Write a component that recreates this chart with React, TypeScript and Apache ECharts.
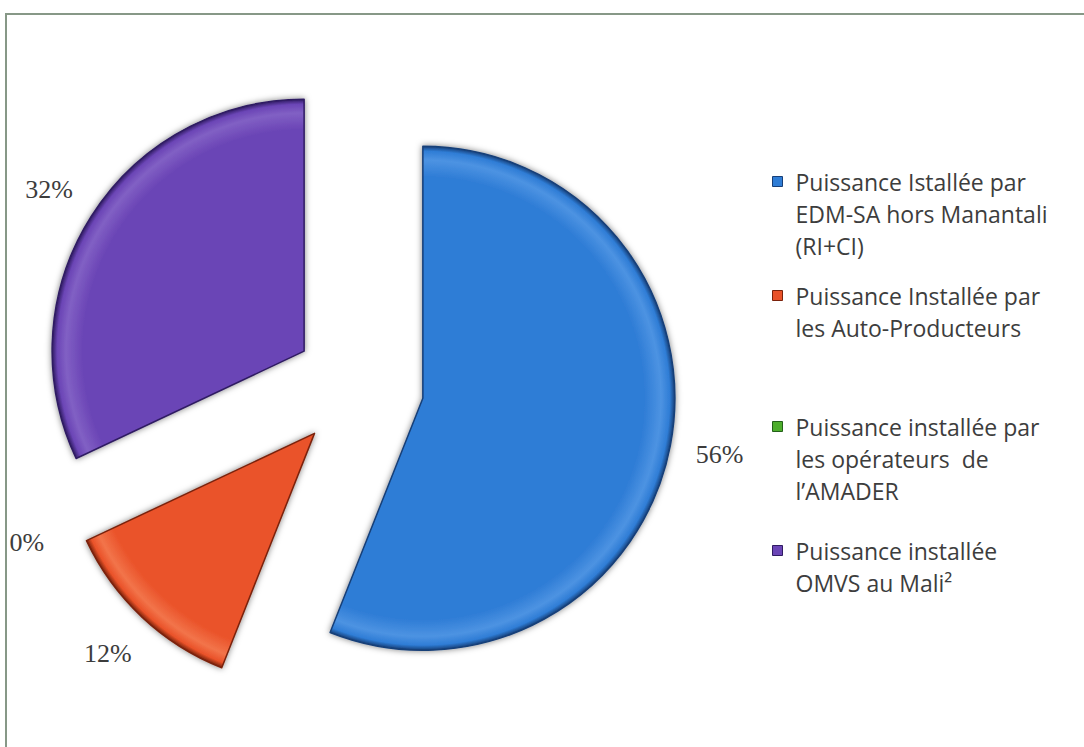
import React, { useEffect, useRef } from "react";
import * as echarts from "echarts";

const categories = [
  "Puissance Istallée par\nEDM-SA hors Manantali\n(RI+CI)",
  "Puissance Installée par\nles Auto-Producteurs",
  "Puissance installée par\nles opérateurs  de\nl’AMADER",
  "Puissance installée\nOMVS au Mali²",
];
const shares = [56, 12, 0, 32];
const baseColors = ["#2f7dd6", "#ea5229", "#4dae2c", "#6b45b6"];
const lightColors = ["#4d93e2", "#f2744a", "#6cc446", "#8160c4"];
const rimColors = ["#173f78", "#7a220b", "#24601a", "#2f1b62"];
const lineCounts = [3, 2, 3, 2];
const legendMids = [182, 296, 427, 551];

export default function App() {
  const ref = useRef<HTMLDivElement>(null);
  useEffect(() => {
    if (!ref.current) return;
    const chart = echarts.init(ref.current, undefined, { renderer: "svg" });
    const cx = 359;
    const cy = 386;
    const R = 252;
    const LH = 32;

    const pieData = categories.map((name, i) => ({
      name,
      value: shares[i],
      selected: true,
      itemStyle: {
        color: {
          type: "radial",
          x: cx,
          y: cy,
          r: R,
          global: true,
          colorStops: [
            { offset: 0, color: baseColors[i] },
            { offset: 0.88, color: baseColors[i] },
            { offset: 0.945, color: lightColors[i] },
            { offset: 0.98, color: baseColors[i] },
            { offset: 1, color: rimColors[i] },
          ],
        },
        borderColor: rimColors[i],
        borderWidth: shares[i] > 0 ? 1.5 : 0,
        shadowBlur: shares[i] > 0 ? 6 : 0,
        shadowColor: "rgba(0,0,0,0.5)",
      },
    }));

    const labelData = categories.map((name, i) => ({
      name,
      value: shares[i],
      selected: true,
    }));

    const legends = categories.map((name, i) => ({
      show: true,
      orient: "vertical",
      left: 772,
      top: legendMids[i] - 12,
      padding: 0,
      itemWidth: 10,
      itemHeight: 10,
      icon: "rect",
      selectedMode: false,
      formatter: (n: string) => "{t|" + n + "}",
      textStyle: {
        rich: {
          t: {
            fontFamily: "Open Sans",
            fontSize: 23,
            lineHeight: LH,
            color: "#3d3d3d",
          },
        },
      },
      data: [
        {
          name,
          itemStyle: {
            color: baseColors[i],
            borderColor: rimColors[i],
            borderWidth: 1,
          },
          textStyle: {
            padding: [(lineCounts[i] - 1) * LH, 0, 0, 8],
          },
        },
      ],
    }));

    chart.setOption({
      animation: false,
      backgroundColor: "#ffffff",
      graphic: [
        {
          type: "rect",
          z: -10,
          shape: { x: 6, y: 14, width: 1200, height: 900 },
          style: { fill: "none", stroke: "#879887", lineWidth: 2 },
          silent: true,
        },
      ],
      legend: legends,
      series: [
        {
          type: "pie",
          center: [cx, cy],
          radius: R,
          startAngle: 90,
          clockwise: true,
          selectedMode: "multiple",
          selectedOffset: 65,
          silent: true,
          emphasis: { disabled: true },
          label: { show: false },
          labelLine: { show: false },
          data: pieData,
        },
        {
          type: "pie",
          center: [cx, cy],
          radius: [294, 304],
          startAngle: 90,
          clockwise: true,
          selectedMode: "multiple",
          selectedOffset: 65,
          silent: true,
          emphasis: { disabled: true },
          itemStyle: { color: "rgba(0,0,0,0)" },
          label: {
            show: true,
            position: "inside",
            formatter: "{d}%",
            fontFamily: "Liberation Serif",
            fontSize: 26,
            color: "#3c3c3c",
          },
          labelLine: { show: false },
          data: labelData,
        },
      ],
    });
    return () => chart.dispose();
  }, []);
  return (
    <div
      ref={ref}
      style={{ position: "absolute", left: 0, top: 0, width: 1084, height: 747, background: "#fff" }}
    />
  );
}
